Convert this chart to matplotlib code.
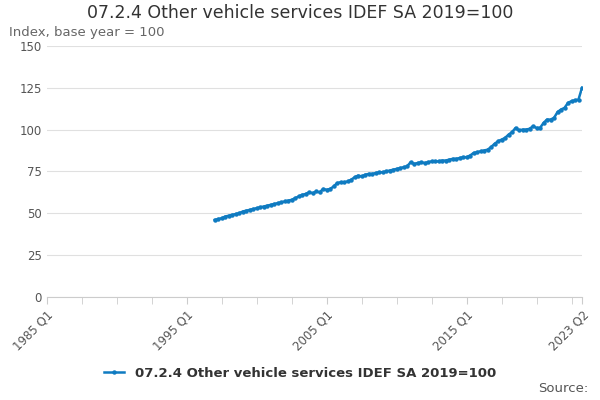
import matplotlib
matplotlib.use("Agg")
import matplotlib.pyplot as plt
import numpy as np

start_label = "1997 Q1"
values = [
 46, 46.5, 47, 48,
 48.5, 49, 49.5, 50,
 51, 51.5, 52, 52.5,
 53, 53.5, 54, 54.5,
 55, 55.5, 56, 56.5,
 57, 57.5, 58, 59,
 60, 61, 61.5, 62.5,
 62, 63, 62.5, 64.5,
 64, 64.5, 66, 68,
 68.5, 68.5, 69, 70,
 71.5, 72.5, 72, 73,
 73.5, 73.5, 74, 74.5,
 74.5, 75, 75.5, 76,
 76.5, 77, 77.5, 78,
 80.5, 79.5, 80, 80.5,
 80, 80.5, 81, 81,
 81, 81.5, 81.5, 82,
 82.5, 82.5, 83, 83.5,
 83.5, 84.5, 86, 86.5,
 87, 87.5, 88, 89.5,
 91.5, 93, 94, 95,
 97, 98.5, 101, 99.5,
 100, 100, 100.5, 102,
 101, 101, 104, 106,
 106, 107, 110.5, 112,
 113, 116, 117, 117.5,
 118, 125,
]
tick_labels = ["1985 Q1", "1995 Q1", "2005 Q1", "2015 Q1", "2023 Q2"]
tick_pos = [0, 40, 80, 120, 153]
series_name = "07.2.4 Other vehicle services IDEF SA 2019=100"

x = 48 + np.arange(len(values))

fig = plt.figure(figsize=(6, 4), dpi=100)
ax = fig.add_axes([0.078, 0.258, 0.892, 0.627])
ax.plot(x, values, color="#0f7bc1", lw=1.8, marker="o", ms=2.2)
ax.set_xlim(0, 153)
ax.set_ylim(0, 150)
ax.set_yticks(range(0, 151, 25))
ax.yaxis.grid(True, color="#e0e0e0", lw=0.8)
ax.set_axisbelow(True)
ax.set_xticks(tick_pos)
ax.set_xticklabels(tick_labels, rotation=45, ha="right", rotation_mode="anchor", color="#555", fontsize=8.5)
ax.set_xticks(range(0, 154, 10), minor=True)
ax.tick_params(axis="x", which="both", length=5, color="#ccc")
ax.tick_params(axis="y", length=0, colors="#555", labelsize=8.5)
for s in ["top", "right", "left"]:
    ax.spines[s].set_visible(False)
ax.spines["bottom"].set_color("#ccc")
fig.text(0.5, 0.955, series_name, ha="center", fontsize=12.5, color="#333")
fig.text(0.015, 0.91, "Index, base year = 100", fontsize=9.5, color="#666")
fig.text(0.98, 0.02, "Source:", ha="right", fontsize=9.5, color="#555")
leg = fig.legend(handles=ax.lines, labels=[series_name], loc="center", bbox_to_anchor=(0.5, 0.067),
                 frameon=False, prop={"weight": "bold", "size": 9.5}, handlelength=1.5)
for t in leg.get_texts():
    t.set_color("#333")
fig.savefig("out.png")
